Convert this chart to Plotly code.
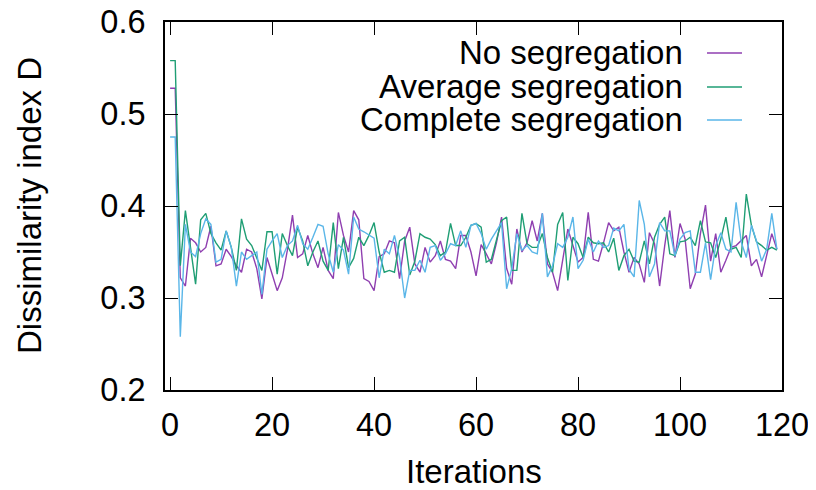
import plotly.graph_objects as go

iterations = list(range(120))

no_seg = [
    0.528, 0.528, 0.322, 0.313, 0.365, 0.360, 0.350, 0.355, 0.378, 0.335,
    0.337, 0.353, 0.345, 0.335, 0.328, 0.353, 0.350, 0.332, 0.299, 0.344,
    0.326, 0.308, 0.322, 0.352, 0.390, 0.344, 0.348, 0.368, 0.348, 0.333,
    0.355, 0.330, 0.321, 0.393, 0.368, 0.350, 0.395, 0.385, 0.321, 0.318,
    0.308, 0.345, 0.348, 0.362, 0.360, 0.321, 0.362, 0.377, 0.337, 0.328,
    0.355, 0.339, 0.346, 0.362, 0.342, 0.340, 0.332, 0.368, 0.368, 0.350,
    0.324, 0.358, 0.348, 0.337, 0.360, 0.388, 0.332, 0.315, 0.375, 0.350,
    0.360, 0.384, 0.362, 0.392, 0.337, 0.328, 0.308, 0.340, 0.375, 0.357,
    0.339, 0.344, 0.393, 0.342, 0.340, 0.360, 0.382, 0.373, 0.377, 0.350,
    0.328, 0.344, 0.337, 0.317, 0.371, 0.359, 0.313, 0.357, 0.395, 0.344,
    0.381, 0.364, 0.310, 0.326, 0.370, 0.401, 0.340, 0.370, 0.328, 0.341,
    0.355, 0.357, 0.362, 0.368, 0.335, 0.342, 0.323, 0.346, 0.370, 0.353,
]

avg_seg = [
    0.558, 0.558, 0.335, 0.395, 0.355, 0.315, 0.385, 0.392, 0.370, 0.360,
    0.352, 0.373, 0.355, 0.330, 0.386, 0.364, 0.357, 0.344, 0.330, 0.372,
    0.372, 0.326, 0.370, 0.357, 0.346, 0.377, 0.362, 0.335, 0.350, 0.362,
    0.340, 0.330, 0.382, 0.332, 0.366, 0.333, 0.343, 0.366, 0.357, 0.368,
    0.382, 0.350, 0.328, 0.330, 0.328, 0.362, 0.366, 0.325, 0.340, 0.370,
    0.366, 0.364, 0.358, 0.346, 0.350, 0.381, 0.357, 0.357, 0.366, 0.379,
    0.381, 0.377, 0.339, 0.342, 0.364, 0.384, 0.388, 0.330, 0.330, 0.392,
    0.359, 0.355, 0.355, 0.370, 0.344, 0.328, 0.380, 0.393, 0.319, 0.366,
    0.359, 0.344, 0.366, 0.360, 0.359, 0.360, 0.350, 0.365, 0.330, 0.346,
    0.353, 0.340, 0.339, 0.362, 0.337, 0.366, 0.380, 0.388, 0.348, 0.346,
    0.361, 0.362, 0.366, 0.357, 0.384, 0.361, 0.360, 0.344, 0.364, 0.388,
    0.353, 0.355, 0.344, 0.413, 0.379, 0.361, 0.357, 0.352, 0.355, 0.352,
]

complete_seg = [
    0.475, 0.475, 0.258, 0.380, 0.350, 0.345, 0.370, 0.386, 0.380, 0.339,
    0.342, 0.373, 0.355, 0.313, 0.350, 0.342, 0.346, 0.350, 0.304, 0.353,
    0.362, 0.370, 0.344, 0.357, 0.362, 0.379, 0.359, 0.353, 0.366, 0.380,
    0.378, 0.348, 0.328, 0.358, 0.352, 0.326, 0.388, 0.375, 0.372, 0.368,
    0.365, 0.322, 0.353, 0.348, 0.368, 0.344, 0.300, 0.330, 0.330, 0.341,
    0.328, 0.355, 0.357, 0.341, 0.348, 0.359, 0.357, 0.373, 0.355, 0.379,
    0.381, 0.370, 0.353, 0.364, 0.373, 0.382, 0.310, 0.332, 0.370, 0.352,
    0.357, 0.350, 0.348, 0.392, 0.323, 0.335, 0.359, 0.355, 0.366, 0.388,
    0.332, 0.341, 0.364, 0.350, 0.362, 0.355, 0.357, 0.376, 0.373, 0.380,
    0.331, 0.323, 0.406, 0.380, 0.323, 0.337, 0.382, 0.373, 0.373, 0.346,
    0.364, 0.371, 0.373, 0.328, 0.328, 0.360, 0.320, 0.357, 0.371, 0.353,
    0.350, 0.404, 0.361, 0.344, 0.379, 0.362, 0.340, 0.353, 0.392, 0.353,
]

series_names = ["No segregation", "Average segregation", "Complete segregation"]
series_colors = ["#8f3fb0", "#1f9e74", "#5ab6e8"]
series_values = [no_seg, avg_seg, complete_seg]

x_ticks = [0, 20, 40, 60, 80, 100, 120]
y_ticks = [0.2, 0.3, 0.4, 0.5, 0.6]

FONT = "Liberation Sans, Arial, Helvetica, sans-serif"
FS_TICK = 32.5
FS_TEXT = 33

fig = go.Figure()
for name, color, vals in zip(series_names, series_colors, series_values):
    fig.add_trace(go.Scatter(
        x=iterations, y=vals, mode="lines", name=name,
        line=dict(color=color, width=1.4), showlegend=False,
    ))

# page body adds an 8px margin at left/top, so the figure fills the rest
fig.update_layout(
    width=808, height=482,
    margin=dict(l=157, r=34, t=14, b=100, autoexpand=False),
    paper_bgcolor="white", plot_bgcolor="white",
    font=dict(family=FONT, size=FS_TICK, color="black"),
)

fig.update_xaxes(
    range=[-1, 120], tickvals=x_ticks, ticktext=[str(v) for v in x_ticks],
    showgrid=False, zeroline=False, showline=True, linecolor="black",
    linewidth=2, mirror="allticks", ticks="inside", ticklen=13, tickwidth=1.2,
    tickcolor="black", ticklabelstandoff=5, automargin=False,
    ticklabeloverflow="allow",
)
fig.update_yaxes(
    range=[0.2, 0.6], tickvals=y_ticks, ticktext=[f"{v:.1f}" for v in y_ticks],
    showgrid=False, zeroline=False, showline=True, linecolor="black",
    linewidth=2, mirror="allticks", ticks="inside", ticklen=13, tickwidth=1.2,
    tickcolor="black", ticklabelstandoff=11, automargin=False,
    ticklabeloverflow="allow",
)

# axis titles
fig.add_annotation(text="Iterations", xref="paper", yref="paper",
                   x=0.5, y=-0.222, xanchor="center", yanchor="middle",
                   showarrow=False, font=dict(size=FS_TEXT))
fig.add_annotation(text="Dissimilarity index D", xref="paper", yref="paper",
                   x=-0.2204, y=0.5, xanchor="center", yanchor="middle",
                   textangle=-90, showarrow=False, font=dict(size=FS_TEXT))

# gnuplot-style key: text right-aligned, sample line to the right
key_y = [0.9158, 0.8234, 0.7337]
for name, color, ky in zip(series_names, series_colors, key_y):
    fig.add_annotation(text=name, xref="paper", yref="paper",
                       x=0.8428, y=ky, xanchor="right", yanchor="middle",
                       showarrow=False, font=dict(size=FS_TEXT))
    fig.add_shape(type="line", xref="paper", yref="paper",
                  x0=0.8784, x1=0.9352, y0=ky, y1=ky,
                  line=dict(color=color, width=1.4))

fig.write_html("out.html")
